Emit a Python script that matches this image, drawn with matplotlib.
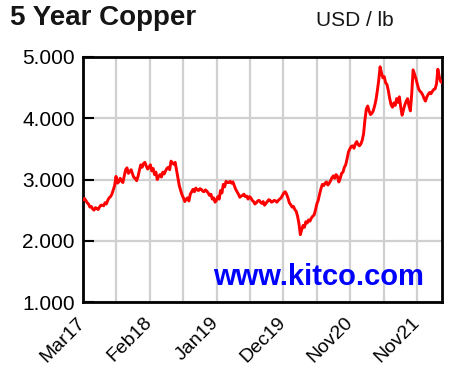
import numpy as np
import pandas as pd
import matplotlib
matplotlib.use("Agg")
import matplotlib.pyplot as plt

# copper price, USD/lb, weekly from Mar 2017
start = "2017-03-01"
prices = [
    2.67, 2.69, 2.66, 2.62, 2.60, 2.55, 2.56, 2.52, 2.50, 2.54,
    2.53, 2.51, 2.55, 2.58, 2.58, 2.57, 2.62, 2.60, 2.66, 2.70,
    2.72, 2.76, 2.83, 2.90, 3.05, 2.94, 2.96, 3.02, 2.98, 2.95,
    3.06, 3.16, 3.19, 3.10, 3.13, 3.16, 3.09, 3.03, 3.02, 2.98,
    3.05, 3.15, 3.24, 3.20, 3.26, 3.28, 3.22, 3.17, 3.20, 3.24,
    3.14, 3.18, 3.08, 3.12, 3.00, 3.05, 3.08, 3.04, 3.12, 3.09,
    3.14, 3.18, 3.20, 3.16, 3.30, 3.27, 3.25, 3.28, 3.15, 3.02,
    2.90, 2.82, 2.75, 2.70, 2.64, 2.68, 2.70, 2.65, 2.76, 2.80,
    2.84, 2.80, 2.86, 2.83, 2.82, 2.85, 2.84, 2.81, 2.80, 2.83,
    2.81, 2.78, 2.74, 2.76, 2.68, 2.70, 2.63, 2.66, 2.72, 2.68,
    2.82, 2.78, 2.92, 2.88, 2.97, 2.95, 2.95, 2.97, 2.94, 2.96,
    2.90, 2.84, 2.80, 2.76, 2.71, 2.73, 2.74, 2.76, 2.72, 2.73,
    2.68, 2.72, 2.70, 2.66, 2.64, 2.60, 2.62, 2.65, 2.66, 2.63,
    2.61, 2.64, 2.58, 2.61, 2.64, 2.67, 2.66, 2.63, 2.64, 2.66,
    2.65, 2.63, 2.66, 2.68, 2.70, 2.74, 2.78, 2.80, 2.76, 2.70,
    2.62, 2.59, 2.55, 2.56, 2.51, 2.48, 2.40, 2.28, 2.10, 2.18,
    2.25, 2.22, 2.31, 2.29, 2.34, 2.32, 2.37, 2.40, 2.42, 2.50,
    2.60, 2.66, 2.76, 2.85, 2.92, 2.90, 2.94, 2.96, 2.91, 2.94,
    2.98, 3.03, 3.06, 3.02, 3.08, 3.05, 2.96, 3.02, 3.10, 3.12,
    3.20, 3.24, 3.34, 3.45, 3.50, 3.54, 3.55, 3.51, 3.58, 3.62,
    3.57, 3.55, 3.58, 3.64, 3.75, 3.98, 4.15, 4.20, 4.12, 4.06,
    4.08, 4.12, 4.20, 4.30, 4.45, 4.62, 4.84, 4.74, 4.66, 4.68,
    4.58, 4.55, 4.45, 4.32, 4.22, 4.18, 4.25, 4.21, 4.32, 4.26,
    4.35, 4.18, 4.05, 4.14, 4.22, 4.28, 4.32, 4.20, 4.12, 4.40,
    4.79, 4.72, 4.65, 4.56, 4.48, 4.44, 4.42, 4.38, 4.32, 4.28,
    4.35, 4.39, 4.42, 4.40, 4.44, 4.47, 4.48, 4.56, 4.80, 4.68,
    4.60, 4.58, 4.62,
]
month_labels = ["Mar17", "Feb18", "Jan19", "Dec19", "Nov20", "Nov21"]
price_ticks = [1, 2, 3, 4, 5]

dates = pd.date_range(start, periods=len(prices), freq="7D")
t0 = pd.Timestamp(start)
step = pd.Timedelta(days=170)

plt.rcParams["font.family"] = ["Liberation Sans", "DejaVu Sans"]

fig = plt.figure(figsize=(4.53, 3.78), dpi=100)
ax = fig.add_axes([83 / 453, 1 - 302 / 378, 359 / 453, 245 / 378])

ax.plot(dates, prices, color="#ff0000", lw=2.1, zorder=3)

grid_pos = [t0 + step * k for k in range(11)]
ax.set_xticks(grid_pos[::2])
ax.set_xticklabels(month_labels)
ax.set_xticks(grid_pos[1::2], minor=True)
ax.set_xlim(t0, t0 + pd.Timedelta(days=1827))
ax.set_ylim(1, 5)
ax.set_yticks(price_ticks)
ax.set_yticklabels([f"{v:.3f}" for v in price_ticks])

ax.grid(True, which="both", color="#d0d0d0", lw=1.6, zorder=0)
ax.tick_params(axis="y", direction="in", length=8, width=1.5, pad=6,
               labelsize=15, color="black")
ax.tick_params(axis="x", which="both", length=0, pad=13, labelsize=14)
for lab in ax.get_xticklabels():
    lab.set_rotation(45)
    lab.set_ha("right")
    lab.set_va("center")
    lab.set_rotation_mode("anchor")
for s in ax.spines.values():
    s.set_linewidth(2)
    s.set_color("black")

fig.text(10 / 453, 1 - 18 / 378, "5 Year Copper", fontsize=20, fontweight="bold",
         va="center", ha="left", color="#151515")
fig.text(355 / 453, 1 - 20 / 378, "USD / lb", fontsize=15, va="center",
         ha="center", color="#151515")
ax.text(0.95, 0.045, "www.kitco.com", transform=ax.transAxes, fontsize=21,
        fontweight="bold", color="#0000ff", ha="right", va="bottom", zorder=4)

fig.savefig("out.png", dpi=100)
